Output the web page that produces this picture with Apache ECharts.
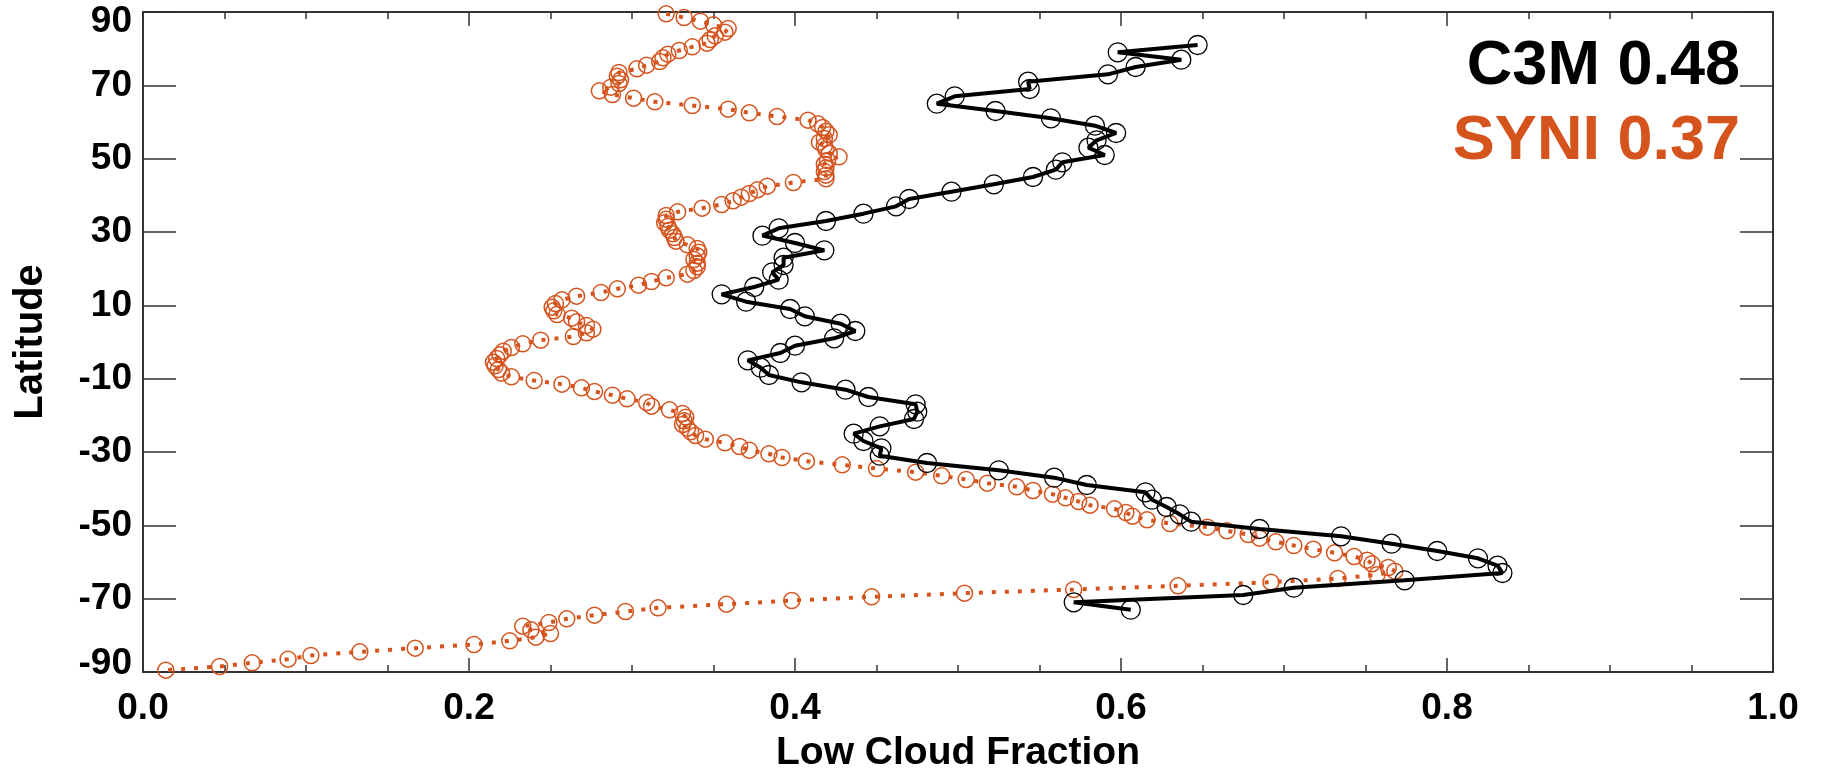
<!DOCTYPE html>
<html>
<head>
<meta charset="utf-8">
<title>Low Cloud Fraction</title>
<script src="https://cdn.jsdelivr.net/npm/echarts@6/dist/echarts.min.js"></script>
<style>
  html, body { margin: 0; padding: 0; background: #fff; }
  #chart { width: 1822px; height: 769px; }
</style>
</head>
<body>
<div id="chart"></div>
<script>
// C3M: one value every 2 degrees, 81N .. 73S
const c3mLat = [
  81, 79, 77, 75, 73, 71, 69, 67, 65, 63,
  61, 59, 57, 55, 53, 51, 49, 47, 45, 43,
  41, 39, 37, 35, 33, 31, 29, 27, 25, 23,
  21, 19, 17, 15, 13, 11, 9, 7, 5, 3,
  1, -1, -3, -5, -7, -9, -11, -13, -15, -17,
  -19, -21, -23, -25, -27, -29, -31, -33, -35, -37,
  -39, -41, -43, -45, -47, -49, -51, -53, -55, -57,
  -59, -61, -63, -65, -67, -69, -71, -73
]
const c3mVal = [
  0.647, 0.598, 0.637, 0.609, 0.592, 0.543, 0.544, 0.498, 0.487, 0.523,
  0.557, 0.584, 0.597, 0.585, 0.580, 0.590, 0.564, 0.560, 0.546, 0.522,
  0.496, 0.470, 0.462, 0.442, 0.419, 0.390, 0.380, 0.400, 0.418, 0.393,
  0.393, 0.386, 0.390, 0.375, 0.355, 0.370, 0.397, 0.406, 0.428, 0.437,
  0.424, 0.400, 0.391, 0.371, 0.379, 0.384, 0.404, 0.431, 0.445, 0.474,
  0.475, 0.473, 0.452, 0.436, 0.442, 0.453, 0.452, 0.481, 0.525, 0.559,
  0.579, 0.615, 0.619, 0.628, 0.636, 0.643, 0.685, 0.735, 0.766, 0.794,
  0.819, 0.831, 0.834, 0.774, 0.706, 0.675, 0.571, 0.606
]

// SYNI: one value every degree, 89.5N .. 89.5S
const syniLat = [
  89.5, 88.5, 87.5, 86.5, 85.5, 84.5, 83.5, 82.5, 81.5, 80.5,
  79.5, 78.5, 77.5, 76.5, 75.5, 74.5, 73.5, 72.5, 71.5, 70.5,
  69.5, 68.5, 67.5, 66.5, 65.5, 64.5, 63.5, 62.5, 61.5, 60.5,
  59.5, 58.5, 57.5, 56.5, 55.5, 54.5, 53.5, 52.5, 51.5, 50.5,
  49.5, 48.5, 47.5, 46.5, 45.5, 44.5, 43.5, 42.5, 41.5, 40.5,
  39.5, 38.5, 37.5, 36.5, 35.5, 34.5, 33.5, 32.5, 31.5, 30.5,
  29.5, 28.5, 27.5, 26.5, 25.5, 24.5, 23.5, 22.5, 21.5, 20.5,
  19.5, 18.5, 17.5, 16.5, 15.5, 14.5, 13.5, 12.5, 11.5, 10.5,
  9.5, 8.5, 7.5, 6.5, 5.5, 4.5, 3.5, 2.5, 1.5, 0.5,
  -0.5, -1.5, -2.5, -3.5, -4.5, -5.5, -6.5, -7.5, -8.5, -9.5,
  -10.5, -11.5, -12.5, -13.5, -14.5, -15.5, -16.5, -17.5, -18.5, -19.5,
  -20.5, -21.5, -22.5, -23.5, -24.5, -25.5, -26.5, -27.5, -28.5, -29.5,
  -30.5, -31.5, -32.5, -33.5, -34.5, -35.5, -36.5, -37.5, -38.5, -39.5,
  -40.5, -41.5, -42.5, -43.5, -44.5, -45.5, -46.5, -47.5, -48.5, -49.5,
  -50.5, -51.5, -52.5, -53.5, -54.5, -55.5, -56.5, -57.5, -58.5, -59.5,
  -60.5, -61.5, -62.5, -63.5, -64.5, -65.5, -66.5, -67.5, -68.5, -69.5,
  -70.5, -71.5, -72.5, -73.5, -74.5, -75.5, -76.5, -77.5, -78.5, -79.5,
  -80.5, -81.5, -82.5, -83.5, -84.5, -85.5, -86.5, -87.5, -88.5, -89.5
]
const syniVal = [
  0.321, 0.332, 0.342, 0.350, 0.359, 0.357, 0.351, 0.348, 0.346, 0.337,
  0.329, 0.322, 0.319, 0.317, 0.309, 0.303, 0.292, 0.291, 0.293, 0.292,
  0.287, 0.280, 0.288, 0.301, 0.314, 0.337, 0.359, 0.372, 0.389, 0.408,
  0.414, 0.417, 0.419, 0.421, 0.418, 0.415, 0.418, 0.419, 0.421, 0.427,
  0.420, 0.418, 0.419, 0.418, 0.419, 0.419, 0.399, 0.383, 0.377, 0.372,
  0.367, 0.362, 0.355, 0.343, 0.328, 0.321, 0.321, 0.320, 0.322, 0.323,
  0.325, 0.326, 0.327, 0.334, 0.340, 0.341, 0.340, 0.338, 0.340, 0.340,
  0.338, 0.334, 0.321, 0.312, 0.304, 0.291, 0.281, 0.266, 0.257, 0.253,
  0.251, 0.252, 0.254, 0.263, 0.266, 0.272, 0.276, 0.272, 0.264, 0.244,
  0.233, 0.226, 0.221, 0.219, 0.217, 0.215, 0.216, 0.218, 0.220, 0.226,
  0.240, 0.257, 0.269, 0.277, 0.288, 0.297, 0.309, 0.312, 0.323, 0.331,
  0.333, 0.332, 0.331, 0.334, 0.336, 0.339, 0.345, 0.357, 0.366, 0.372,
  0.384, 0.392, 0.407, 0.429, 0.450, 0.474, 0.490, 0.505, 0.518, 0.536,
  0.546, 0.558, 0.566, 0.574, 0.581, 0.596, 0.603, 0.607, 0.616, 0.630,
  0.653, 0.665, 0.678, 0.685, 0.695, 0.706, 0.718, 0.731, 0.743, 0.751,
  0.754, 0.764, 0.768, 0.757, 0.733, 0.692, 0.635, 0.571, 0.504, 0.447,
  0.398, 0.358, 0.316, 0.296, 0.277, 0.260, 0.249, 0.233, 0.238, 0.250,
  0.241, 0.225, 0.203, 0.167, 0.133, 0.103, 0.089, 0.067, 0.047, 0.014
]

const legendItems = [
  { name: 'C3M', score: '0.48', color: '#000000' },
  { name: 'SYNI', score: '0.37', color: '#d5541e' }
]

const FONT = 'Liberation Sans'
const AXIS_COLOR = '#333'

const myChart = echarts.init(document.getElementById('chart'))

const xTicks = {
  axisLine: { onZero: false, lineStyle: { color: AXIS_COLOR, width: 2 } },
  axisTick: { inside: true, length: 14, lineStyle: { color: AXIS_COLOR, width: 1.5 } },
  minorTick: { show: true, splitNumber: 4, length: 7, lineStyle: { color: AXIS_COLOR, width: 1.5 } },
  splitLine: { show: false },
  minorSplitLine: { show: false }
}
const yTicks = {
  axisLine: { onZero: false, lineStyle: { color: AXIS_COLOR, width: 2 } },
  axisTick: { inside: true, length: 33, lineStyle: { color: AXIS_COLOR, width: 1.5 } },
  splitLine: { show: false }
}

const option = {
  animation: false,
  backgroundColor: '#fff',
  grid: { left: 143, right: 49, top: 12, bottom: 97, containLabel: false, outerBoundsMode: 'none' },
  xAxis: [
    Object.assign({
      type: 'value',
      position: 'bottom',
      min: 0,
      max: 1,
      interval: 0.2,
      name: 'Low Cloud Fraction',
      nameLocation: 'middle',
      nameGap: 62,
      nameTextStyle: { fontFamily: FONT, fontWeight: 'bold', fontSize: 39, color: '#000' },
      axisLabel: {
        margin: 18,
        fontFamily: FONT,
        fontWeight: 'bold',
        fontSize: 37,
        color: '#000',
        formatter: v => v.toFixed(1)
      }
    }, xTicks),
    Object.assign({
      type: 'value',
      position: 'top',
      min: 0,
      max: 1,
      interval: 0.2,
      axisLabel: { show: false }
    }, xTicks)
  ],
  yAxis: [
    Object.assign({
      type: 'value',
      position: 'left',
      min: -90,
      max: 90,
      interval: 20,
      name: 'Latitude',
      nameLocation: 'middle',
      nameGap: 92,
      nameTextStyle: { fontFamily: FONT, fontWeight: 'bold', fontSize: 40, color: '#000' },
      axisLabel: {
        margin: 11,
        fontFamily: FONT,
        fontWeight: 'bold',
        fontSize: 37,
        color: '#000',
        formatter: v => (v === 90 ? '{top|90}' : v === -90 ? '{bot|-90}' : String(v)),
        rich: {
          top: { fontFamily: FONT, fontWeight: 'bold', fontSize: 37, color: '#000', padding: [20, 0, 0, 0] },
          bot: { fontFamily: FONT, fontWeight: 'bold', fontSize: 37, color: '#000', padding: [0, 0, 16, 0] }
        }
      }
    }, yTicks),
    Object.assign({
      type: 'value',
      position: 'right',
      min: -90,
      max: 90,
      interval: 20,
      axisLabel: { show: false }
    }, yTicks)
  ],
  graphic: legendItems.map((item, i) => ({
    type: 'text',
    right: 82,
    top: 35 + i * 75,
    style: {
      text: item.name + ' ' + item.score,
      fill: item.color,
      font: 'bold 63px "' + FONT + '"'
    }
  })),
  series: [
    {
      name: 'SYNI',
      type: 'line',
      xAxisIndex: 0,
      yAxisIndex: 0,
      data: syniVal.map((v, i) => [v, syniLat[i]]),
      showAllSymbol: true,
      symbol: 'circle',
      symbolSize: 16,
      itemStyle: { color: 'rgba(0,0,0,0)', borderColor: '#d5541e', borderWidth: 1.5 },
      lineStyle: { color: '#d5541e', width: 4, type: [4, 9], cap: 'butt' },
      z: 2
    },
    {
      name: 'C3M',
      type: 'line',
      xAxisIndex: 0,
      yAxisIndex: 0,
      data: c3mVal.map((v, i) => [v, c3mLat[i]]),
      showAllSymbol: true,
      symbol: 'circle',
      symbolSize: 19,
      itemStyle: { color: 'rgba(0,0,0,0)', borderColor: '#000', borderWidth: 1.3 },
      lineStyle: { color: '#000', width: 4 },
      z: 3
    }
  ]
}

myChart.setOption(option, true)
</script>
</body>
</html>
